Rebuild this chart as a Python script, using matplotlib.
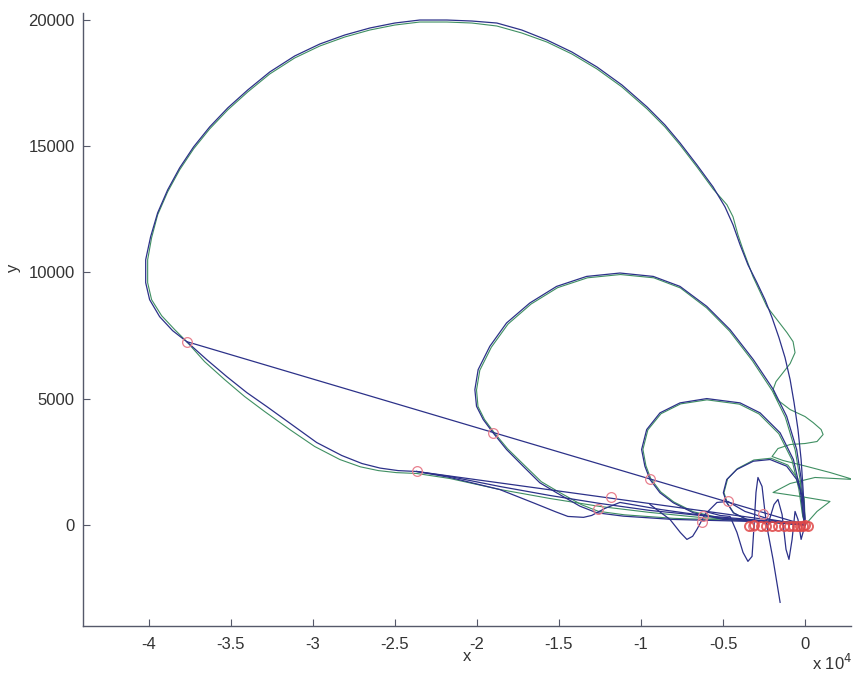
import matplotlib
matplotlib.use("Agg")
import matplotlib.pyplot as plt

plt.rcParams['font.family'] = ['Liberation Sans', 'DejaVu Sans']
plt.rcParams['axes.unicode_minus'] = False

# x values are in units of 1e4 (axis shows "x 10^4")
# big loop, blue
loop1_x = [0, -0.012, -0.024, -0.043, -0.067, -0.091, -0.122, -0.159, -0.201, -0.244, -0.293,
           -0.348, -0.396, -0.439, -0.488, -0.561, -0.659, -0.762, -0.854, -0.963, -1.116,
           -1.268, -1.421, -1.573, -1.726, -1.878, -2.030, -2.183, -2.348, -2.5, -2.652,
           -2.805, -2.957, -3.110, -3.262, -3.396, -3.518, -3.628, -3.726, -3.811, -3.884,
           -3.945, -3.988, -4.018, -4.018, -3.994, -3.933, -3.854, -3.768, -3.646, -3.524,
           -3.402, -3.280, -3.128, -2.976, -2.823, -2.70, -2.59, -2.48, -2.366, -2.165, -1.860,
           -1.555, -1.25, -0.945, -0.64, -0.335, 0]
loop1_y = [0, 1403, 2589, 3775, 4842, 5752, 6622, 7412, 8203, 8914, 9586,
           10297, 11088, 11879, 12590, 13381, 14250, 15120, 15832, 16543, 17412,
           18124, 18717, 19191, 19586, 19863, 19942, 19982, 19982, 19863, 19666,
           19389, 19033, 18559, 17926, 17215, 16503, 15752, 14962, 14132, 13262,
           12353, 11404, 10495, 9586, 8914, 8242, 7689, 7254, 6542, 5870,
           5238, 4684, 3973, 3261, 2747, 2430, 2250, 2150, 2115, 1917, 1522,
           1166, 850, 573, 376, 217, 0]

# big loop, green (starts with the wiggles near the origin)
loop1g_x = [0, 0.073, 0.152, -0.03, -0.195, -0.091, 0.061, 0.293, 0.152, 0.012, -0.134,
            -0.201, -0.165, -0.091, 0, 0.073, 0.11, 0.098, 0.049, 0, -0.091,
            -0.171, -0.195, -0.177, -0.134, -0.091, -0.061, -0.073, -0.11, -0.171, -0.232,
            -0.317, -0.378, -0.409, -0.439, -0.476, -0.561, -0.659, -0.762, -0.854,
            -0.963, -1.116, -1.268, -1.421, -1.573, -1.726, -1.878, -2.03, -2.183, -2.348,
            -2.5, -2.652, -2.805, -2.957, -3.11, -3.262, -3.396, -3.518, -3.628, -3.726,
            -3.811, -3.884, -3.945, -3.982, -4.006, -4.006, -3.982, -3.921, -3.841, -3.768,
            -3.659, -3.537, -3.415, -3.293, -3.14, -2.988, -2.835, -2.71, -2.6, -2.49, -2.366,
            -2.165, -1.86, -1.555, -1.25, -0.945, -0.64, -0.335, 0]
loop1g_y = [0, 534, 929, 1127, 1285, 1640, 1878, 1799, 2075, 2313, 2550,
            2708, 3024, 3182, 3222, 3301, 3578, 3775, 4052, 4289, 4566,
            4961, 5356, 5673, 6028, 6384, 6819, 7254, 7610, 8124, 8637,
            9823, 10890, 11484, 12195, 12670, 13300, 14170, 15040, 15752,
            16464, 17333, 18045, 18638, 19112, 19468, 19745, 19863, 19903, 19903,
            19784, 19587, 19310, 18954, 18480, 17847, 17136, 16424, 15673, 14883,
            14053, 13183, 12274, 11365, 10495, 9586, 8914, 8282, 7728, 7254,
            6463, 5752, 5080, 4487, 3775, 3103, 2589, 2300, 2150, 2070, 2036,
            1838, 1403, 1047, 731, 494, 296, 178, 0]

# second loop
loop2_x = [0, -0.010, -0.020, -0.051, -0.112, -0.193, -0.315, -0.457, -0.599, -0.762, -0.925,
           -1.128, -1.331, -1.514, -1.677, -1.819, -1.921, -1.992, -2.012, -2.002, -1.961,
           -1.901, -1.819, -1.718, -1.616, -1.514, -1.372, -1.270, -1.108, -0.803, -0.396,
           -0.010, 0]
loop2_y = [0, 348, 1668, 2985, 4301, 5356, 6542, 7728, 8650, 9440, 9835,
           9969, 9835, 9440, 8784, 7993, 7068, 6147, 5356, 4696, 4170,
           3645, 2985, 2324, 1668, 1273, 743, 482, 348, 217, 150,
           87, 0]
loop2g_x = [0, -0.015, -0.028, -0.06, -0.12, -0.2, -0.32, -0.46, -0.6, -0.76, -0.922,
            -1.125, -1.326, -1.508, -1.67, -1.81, -1.912, -1.982, -2.002, -1.993, -1.953,
            -1.895, -1.812, -1.71, -1.607, -1.505, -1.362, -1.26, -1.1, -0.8, -0.39,
            -0.01, 0]
loop2g_y = [0, 400, 1700, 2960, 4260, 5310, 6490, 7670, 8590, 9380, 9780,
            9910, 9780, 9390, 8740, 7950, 7030, 6120, 5340, 4690, 4170,
            3660, 3010, 2360, 1710, 1320, 800, 540, 400, 260, 180,
            100, 0]

# third loop
loop3_x = [0, -0.010, -0.030, -0.071, -0.152, -0.274, -0.396, -0.599, -0.762, -0.884, -0.965,
           -0.996, -0.976, -0.945, -0.884, -0.803, -0.681, -0.498, -0.193, 0]
loop3_y = [0, 348, 1403, 2589, 3645, 4435, 4830, 5000, 4830, 4435, 3775,
           2985, 2324, 1799, 1273, 877, 482, 217, 111, 0]
loop3g_x = [0, -0.015, -0.038, -0.08, -0.16, -0.28, -0.4, -0.598, -0.758, -0.878, -0.958,
            -0.988, -0.97, -0.94, -0.88, -0.8, -0.68, -0.5, -0.2, 0]
loop3g_y = [0, 380, 1420, 2580, 3610, 4390, 4780, 4950, 4790, 4400, 3760,
            2990, 2350, 1830, 1310, 910, 520, 250, 130, 0]

# fourth loop
loop4_x = [0, -0.010, -0.051, -0.112, -0.213, -0.315, -0.416, -0.477, -0.498, -0.477, -0.437,
           -0.355, -0.183, 0]
loop4_y = [217, 1008, 1799, 2324, 2589, 2522, 2194, 1799, 1273, 877, 482,
           217, 99, 0]
loop4g_x = [0, -0.005, -0.045, -0.105, -0.208, -0.312, -0.412, -0.472, -0.494, -0.474, -0.434,
            -0.352, -0.18, 0]
loop4g_y = [250, 1050, 1840, 2370, 2640, 2570, 2230, 1820, 1280, 870, 470,
            200, 90, 0]

# lower blue curve with the dip
dip_x = [-2.366, -2.165, -1.86, -1.646, -1.52, -1.445, -1.35, -1.3, -1.22, -1.128, -0.88, -0.52, 0]
dip_y = [2115, 1880, 1400, 850, 520, 336, 300, 376, 652, 890, 610, 280, 0]

# small dip and bump left of the origin
bump_x = [-0.945, -0.823, -0.76, -0.72, -0.685, -0.659, -0.61, -0.537, -0.47, -0.366, -0.213, 0]
bump_y = [810, 217, -300, -573, -450, -178, 415, 889, 929, 534, 217, 0]

# oscillations near the origin
osc1_x = [-0.61, -0.518, -0.457, -0.415, -0.378, -0.348, -0.323, -0.311, -0.299, -0.287, -0.262,
          -0.244, -0.226, -0.195, -0.152]
osc1_y = [534, 376, 336, -296, -1087, -1443, -1245, -59, 1285, 1878, 1522,
          494, -296, -1364, -3064]
osc2_x = [-0.226, -0.189, -0.165, -0.14, -0.116, -0.098, -0.079, -0.061, -0.043, -0.024, 0]
osc2_y = [20, 810, 1008, 415, -968, -1364, -573, 534, 217, -573, 0]

# straight jumps towards the origin
jump1_x = [-3.768, 0]
jump1_y = [7254, 0]
jump2_x = [-2.366, 0]
jump2_y = [2115, 0]

# red circle markers
mark_x = [-3.768, -2.366, -1.902, -0.945, -1.183, -1.262, -0.47, -0.622, -0.628, -0.256, -0.317]
mark_y = [7254, 2115, 3645, 1799, 1087, 613, 929, 336, 99, 415, -59]
cluster_x = [-0.34, -0.31, -0.27, -0.24, -0.2, -0.165, -0.13, -0.1, -0.073, -0.05, -0.03, -0.01, 0.0, 0.018]
cluster_y = [-60, -20, -60, -40, -60, -59, -30, -60, -59, -30, -59, -40, -20, -59]

x_ticks = [-4, -3.5, -3, -2.5, -2, -1.5, -1, -0.5, 0]
x_tick_labels = ['-4', '-3.5', '-3', '-2.5', '-2', '-1.5', '-1', '-0.5', '0']
y_ticks = [0, 5000, 10000, 15000, 20000]

blue = '#2c3189'
green = '#3f8f62'
pink = '#e8808e'
spine = '#55596a'

fig = plt.figure(figsize=(8.59, 6.79), dpi=100)
ax = fig.add_axes([83 / 859, 53 / 679, 768 / 859, 613 / 679])

for gx, gy in [(loop1g_x, loop1g_y), (loop2g_x, loop2g_y), (loop3g_x, loop3g_y), (loop4g_x, loop4g_y)]:
    ax.plot(gx, gy, '-', color=green, linewidth=0.8)

for bx, by in [(loop1_x, loop1_y), (loop2_x, loop2_y), (loop3_x, loop3_y), (loop4_x, loop4_y),
               (dip_x, dip_y), (bump_x, bump_y), (osc1_x, osc1_y), (osc2_x, osc2_y),
               (jump1_x, jump1_y), (jump2_x, jump2_y)]:
    ax.plot(bx, by, '-', color=blue, linewidth=0.9)

ax.plot(mark_x, mark_y, 'o', markersize=7, markerfacecolor='none', markeredgecolor=pink, markeredgewidth=0.9)
ax.plot(cluster_x, cluster_y, 'o', markersize=6.5, markerfacecolor='none', markeredgecolor='#e04848',
        markeredgewidth=1.4, alpha=0.85)

ax.set_xlim(-4.4, 0.28)
ax.set_ylim(-4000, 20260)
ax.set_xticks(x_ticks)
ax.set_xticklabels(x_tick_labels)
ax.set_yticks(y_ticks)

ax.spines['top'].set_visible(False)
ax.spines['right'].set_visible(False)
for s in ['left', 'bottom']:
    ax.spines[s].set_color(spine)
    ax.spines[s].set_linewidth(1.0)
ax.tick_params(direction='in', length=5, color=spine, labelsize=12, labelcolor='#333333')
ax.tick_params(axis='x', pad=8)
ax.tick_params(axis='y', pad=6)

ax.set_xlabel('x', fontsize=12, color='#333333')
ax.xaxis.set_label_coords(0.5, -0.037)
ax.set_ylabel('y', fontsize=12, color='#333333')
ax.yaxis.set_label_coords(-0.081, 0.584)

fig.text(812 / 859, 1 - 663 / 679, 'x 10$^4$', fontsize=12, color='#333333', va='center')

fig.savefig('out.png', dpi=100)
